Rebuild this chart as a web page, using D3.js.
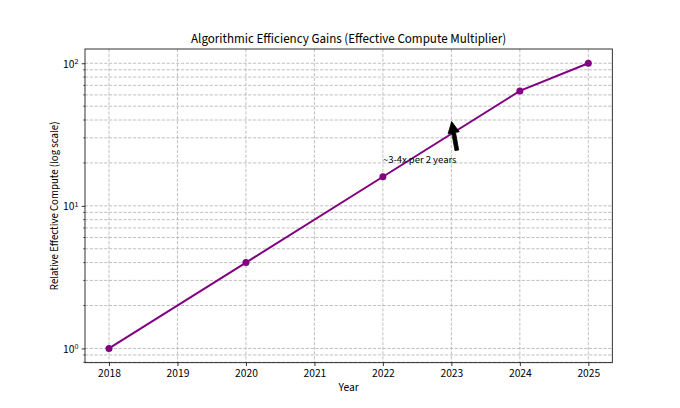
<!DOCTYPE html>
<html>
<head>
<meta charset="utf-8">
<script src="https://cdn.jsdelivr.net/npm/d3@7"></script>
<style>
  body { margin: 0; background: #fff; }
  svg text { font-family: "Source Sans Pro", "Source Sans 3", "Liberation Sans Narrow", "Noto Sans", sans-serif; fill: #000; }
</style>
</head>
<body>
<svg id="chart" width="680" height="408"></svg>
<script>
// Data.
const years = [2018, 2020, 2022, 2024, 2025]
const multiplier = [1, 4, 16, 64, 100]
const yearTicks = [2018, 2019, 2020, 2021, 2022, 2023, 2024, 2025]
const decadeTicks = [1, 10, 100]
const decadeExponents = ["0", "1", "2"]

const TITLE = "Algorithmic Efficiency Gains (Effective Compute Multiplier)"
const XLABEL = "Year"
const YLABEL = "Relative Effective Compute (log scale)"
const NOTE = "~3-4x per 2 years"
const NOTE_AT = [2022, 20]   // text position
const ARROW_TO = [2023, 40]  // arrow tip

const W = 680, H = 408
const margin = { left: 85, right: 680 - 612.3, top: 49, bottom: 408 - 362.7 }
const PT = 68 / 72

function main() {
  var svg = d3.select("#chart")
  var iw = W - margin.left - margin.right
  var ih = H - margin.top - margin.bottom

  // matplotlib style 5% margins (log space for y)
  var xpad = (d3.max(years) - d3.min(years)) * 0.05
  var x = d3.scaleLinear()
    .domain([d3.min(years) - xpad, d3.max(years) + xpad])
    .range([margin.left, margin.left + iw])

  var lmin = Math.log10(d3.min(multiplier)), lmax = Math.log10(d3.max(multiplier))
  var lpad = (lmax - lmin) * 0.05
  var y = d3.scaleLog()
    .domain([Math.pow(10, lmin - lpad), Math.pow(10, lmax + lpad)])
    .range([margin.top + ih, margin.top])

  // minor ticks 2..9 in each decade inside the domain
  var dom = y.domain()
  var minor = []
  ;[0.1, 1, 10, 100].forEach(function (d) {
    for (var k = 2; k <= 9; k++) {
      var v = d * k
      if (v >= dom[0] && v <= dom[1]) minor.push(v)
    }
  })

  var grid = svg.append("g")
    .attr("stroke", "#b0b0b0")
    .attr("stroke-width", 0.8)
    .attr("stroke-dasharray", "3.2,1.6")

  grid.selectAll("line.gx").data(yearTicks).join("line")
    .attr("x1", d => x(d)).attr("x2", d => x(d))
    .attr("y1", margin.top).attr("y2", margin.top + ih)

  grid.selectAll("line.gy").data(decadeTicks.concat(minor)).join("line")
    .attr("x1", margin.left).attr("x2", margin.left + iw)
    .attr("y1", d => y(d)).attr("y2", d => y(d))

  // the series
  var pts = years.map((d, i) => [d, multiplier[i]])
  svg.append("path")
    .datum(pts)
    .attr("fill", "none")
    .attr("stroke", "purple")
    .attr("stroke-width", 2)
    .attr("d", d3.line().x(d => x(d[0])).y(d => y(d[1])))

  svg.selectAll("circle.pt").data(pts).join("circle")
    .attr("cx", d => x(d[0])).attr("cy", d => y(d[1]))
    .attr("r", 3.5)
    .attr("fill", "purple")

  // axes
  var xAxis = d3.axisBottom(x).tickValues(yearTicks).tickFormat(d3.format("d"))
    .tickSize(3.5 * PT).tickPadding(3.5 * PT)
  var gx = svg.append("g")
    .attr("transform", "translate(0," + (margin.top + ih) + ")")
    .call(xAxis)
  gx.select(".domain").remove()
  gx.selectAll("text").attr("font-size", 11.5).attr("font-family", null)

  var yAxis = d3.axisLeft(y).tickValues(decadeTicks).tickFormat("")
    .tickSize(3.5 * PT).tickPadding(3.5 * PT)
  var gy = svg.append("g")
    .attr("transform", "translate(" + margin.left + ",0)")
    .call(yAxis)
  gy.select(".domain").remove()
  gy.selectAll(".tick text").remove()
  gy.selectAll(".tick").append("text")
    .attr("x", -7 * PT)
    .attr("dy", "0.35em")
    .attr("text-anchor", "end")
    .attr("font-size", 11.5)
    .each(function (d, i) {
      var t = d3.select(this)
      t.append("tspan").text("10")
      t.append("tspan").attr("dy", "-0.45em").attr("font-size", 8).text(decadeExponents[i])
    })

  svg.append("g").selectAll("line").data(minor).join("line")
    .attr("x1", margin.left - 2 * PT).attr("x2", margin.left)
    .attr("y1", d => y(d)).attr("y2", d => y(d))
    .attr("stroke", "#000").attr("stroke-width", 0.6)

  gx.selectAll(".tick line").attr("stroke-width", 0.8)
  gy.selectAll(".tick line").attr("stroke-width", 0.8)

  // frame
  svg.append("rect")
    .attr("x", margin.left).attr("y", margin.top)
    .attr("width", iw).attr("height", ih)
    .attr("fill", "none").attr("stroke", "#000").attr("stroke-width", 0.8)

  // titles
  svg.append("text")
    .attr("x", margin.left + iw / 2).attr("y", margin.top - 6 * PT)
    .attr("text-anchor", "middle").attr("font-size", 13)
    .text(TITLE)

  svg.append("text")
    .attr("x", margin.left + iw / 2).attr("y", 391)
    .attr("text-anchor", "middle").attr("font-size", 11.5)
    .text(XLABEL)

  svg.append("text")
    .attr("transform", "translate(58," + (margin.top + ih / 2) + ") rotate(-90)")
    .attr("text-anchor", "middle").attr("font-size", 10.8)
    .text(YLABEL)

  // annotation, arrow starts at the text bbox corner nearest the tip
  var note = svg.append("text")
    .attr("x", x(NOTE_AT[0])).attr("y", y(NOTE_AT[1]))
    .attr("font-size", 10.6)
    .text(NOTE)
  var bb = note.node().getBBox()
  var tx = x(ARROW_TO[0]), ty = y(ARROW_TO[1])
  var sx = [bb.x, bb.x + bb.width / 2, bb.x + bb.width].reduce((a, b) => Math.abs(b - tx) < Math.abs(a - tx) ? b : a)
  var sy = [bb.y, bb.y + bb.height / 2, bb.y + bb.height].reduce((a, b) => Math.abs(b - ty) < Math.abs(a - ty) ? b : a)

  var dx = tx - sx, dy = ty - sy
  var r = Math.hypot(dx, dy)
  var ux = dx / r, uy = dy / r
  var ax = sx + ux * r * 0.05, ay = sy + uy * r * 0.05
  var bx = tx - ux * r * 0.05, by = ty - uy * r * 0.05
  var hl = 12 * PT, hw = 12 * PT / 2, tw = 4 * PT / 2
  var nx = -uy, ny = ux
  var hx = bx - ux * hl, hy = by - uy * hl
  var poly = [
    [ax + nx * tw, ay + ny * tw],
    [hx + nx * tw, hy + ny * tw],
    [hx + nx * hw, hy + ny * hw],
    [bx, by],
    [hx - nx * hw, hy - ny * hw],
    [hx - nx * tw, hy - ny * tw],
    [ax - nx * tw, ay - ny * tw]
  ]
  svg.append("path")
    .attr("d", "M" + poly.map(p => p.join(",")).join("L") + "Z")
    .attr("fill", "#000").attr("stroke", "#000").attr("stroke-width", 0.8)
}

main()
</script>
</body>
</html>
